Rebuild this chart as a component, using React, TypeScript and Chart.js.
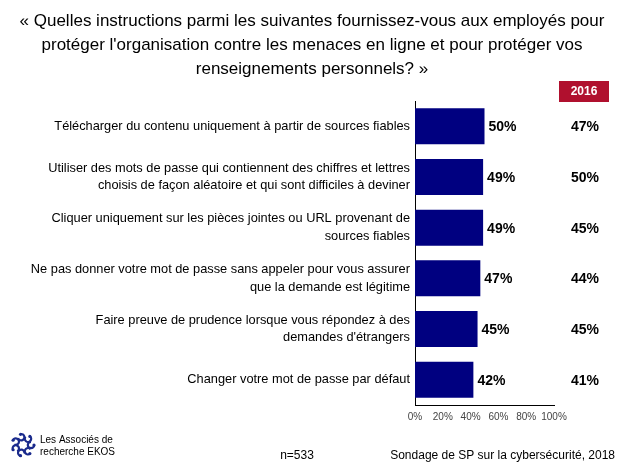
import React, { useEffect, useRef } from "react";
import { Chart, registerables } from "chart.js";

Chart.register(...registerables);

const categories: (string | string[])[] = [
  "Télécharger du contenu uniquement à partir de sources fiables",
  ["Utiliser des mots de passe qui contiennent des chiffres et lettres", "choisis de façon aléatoire et qui sont difficiles à deviner"],
  ["Cliquer uniquement sur les pièces jointes ou URL provenant de", "sources fiables"],
  ["Ne pas donner votre mot de passe sans appeler pour vous assurer", "que la demande est légitime"],
  ["Faire preuve de prudence lorsque vous répondez à des", "demandes d'étrangers"],
  "Changer votre mot de passe par défaut",
];
const values2018 = [50, 49, 49, 47, 45, 42];
const values2016 = [47, 50, 45, 44, 45, 41];
const xTicks = [0, 20, 40, 60, 80, 100];
const titleLines = [
  "« Quelles instructions parmi les suivantes fournissez-vous aux employés pour",
  "protéger l'organisation contre les menaces en ligne et pour protéger vos",
  "renseignements personnels? »",
];
const compareLabel = "2016";
const sampleText = "n=533";
const sourceText = "Sondage de SP sur la cybersécurité, 2018";
const logoLines = ["Les Associés de", "recherche EKOS"];

const FONT = "'Liberation Sans', Arial, sans-serif";

const overlay = {
  id: "overlay",
  afterDatasetsDraw(chart: any) {
    const ctx = chart.ctx;
    const meta = chart.getDatasetMeta(0);
    const yScale = chart.scales.y;
    ctx.save();
    // value labels
    ctx.font = `bold 14px ${FONT}`;
    ctx.fillStyle = "#000";
    ctx.textBaseline = "middle";
    ctx.textAlign = "left";
    meta.data.forEach((bar: any, i: number) => {
      ctx.fillText(values2018[i] + "%", bar.x + 4, bar.y + 1);
    });
    // 2016 column
    ctx.textAlign = "center";
    values2016.forEach((v, i) => {
      ctx.fillText(v + "%", 585, yScale.getPixelForValue(i) + 1);
    });
    // 2016 header
    ctx.fillStyle = "#b0102e";
    ctx.fillRect(559, 81, 50, 21);
    ctx.fillStyle = "#fff";
    ctx.font = `bold 12px ${FONT}`;
    ctx.fillText(compareLabel, 584, 92);
    // title
    ctx.fillStyle = "#000";
    ctx.font = `17px ${FONT}`;
    titleLines.forEach((t, i) => ctx.fillText(t, 312, 21 + i * 24));
    // footer
    ctx.font = `12px ${FONT}`;
    ctx.fillText(sampleText, 297, 456);
    ctx.textAlign = "right";
    ctx.fillText(sourceText, 615, 456);
    ctx.textAlign = "left";
    ctx.font = `10px ${FONT}`;
    ctx.fillText(logoLines[0], 40, 440);
    ctx.fillText(logoLines[1], 40, 452);
    // logo swirl
    const cx = 23, cy = 445;
    ctx.strokeStyle = "#1a2a8c";
    ctx.fillStyle = "#1a2a8c";
    ctx.lineWidth = 2.2;
    for (let k = 0; k < 7; k++) {
      const a = (k / 7) * Math.PI * 2;
      const px = cx + Math.cos(a) * 8;
      const py = cy + Math.sin(a) * 8;
      ctx.beginPath();
      ctx.arc(px, py, 3.2, a, a + Math.PI * 1.5);
      ctx.stroke();
      ctx.beginPath();
      ctx.arc(cx + Math.cos(a) * 11, cy + Math.sin(a) * 11, 1.6, 0, Math.PI * 2);
      ctx.fill();
    }
    ctx.restore();
  },
};

export default function App() {
  const ref = useRef<HTMLCanvasElement | null>(null);
  useEffect(() => {
    document.body.style.margin = "0";
    const chart = new Chart(ref.current as HTMLCanvasElement, {
      type: "bar",
      data: {
        labels: categories,
        datasets: [
          {
            data: values2018,
            backgroundColor: "#000080",
            borderWidth: 0,
            barPercentage: 0.71,
            categoryPercentage: 1,
          },
        ],
      },
      options: {
        indexAxis: "y",
        responsive: false,
        animation: false,
        layout: { padding: { left: 0, right: 70, top: 101, bottom: 0 } },
        plugins: { legend: { display: false }, title: { display: false }, tooltip: { enabled: false } },
        scales: {
          x: {
            min: 0,
            max: 100,
            afterBuildTicks: (scale: any) => {
              scale.ticks = xTicks.map((v) => ({ value: v }));
            },
            afterFit: (scale: any) => {
              scale.height = 63;
            },
            grid: { display: false, drawTicks: false },
            border: { display: true, color: "#000", width: 1 },
            ticks: {
              padding: 6,
              color: "#444",
              autoSkip: false,
              font: { family: FONT, size: 10 },
              callback: (v: any) => v + "%",
              maxRotation: 0,
            },
          },
          y: {
            afterFit: (scale: any) => {
              scale.width = 415;
            },
            grid: { display: false, drawTicks: false },
            border: { display: true, color: "#000", width: 1 },
            ticks: {
              padding: 5,
              color: "#000",
              autoSkip: false,
              font: { family: FONT, size: 12.8, lineHeight: 1.4 },
            },
          },
        },
      },
      plugins: [overlay],
    });
    return () => chart.destroy();
  }, []);
  return (
    <div style={{ position: "absolute", left: 0, top: 0, width: 624, height: 468, background: "#fff" }}>
      <canvas ref={ref} width={624} height={468} />
    </div>
  );
}
